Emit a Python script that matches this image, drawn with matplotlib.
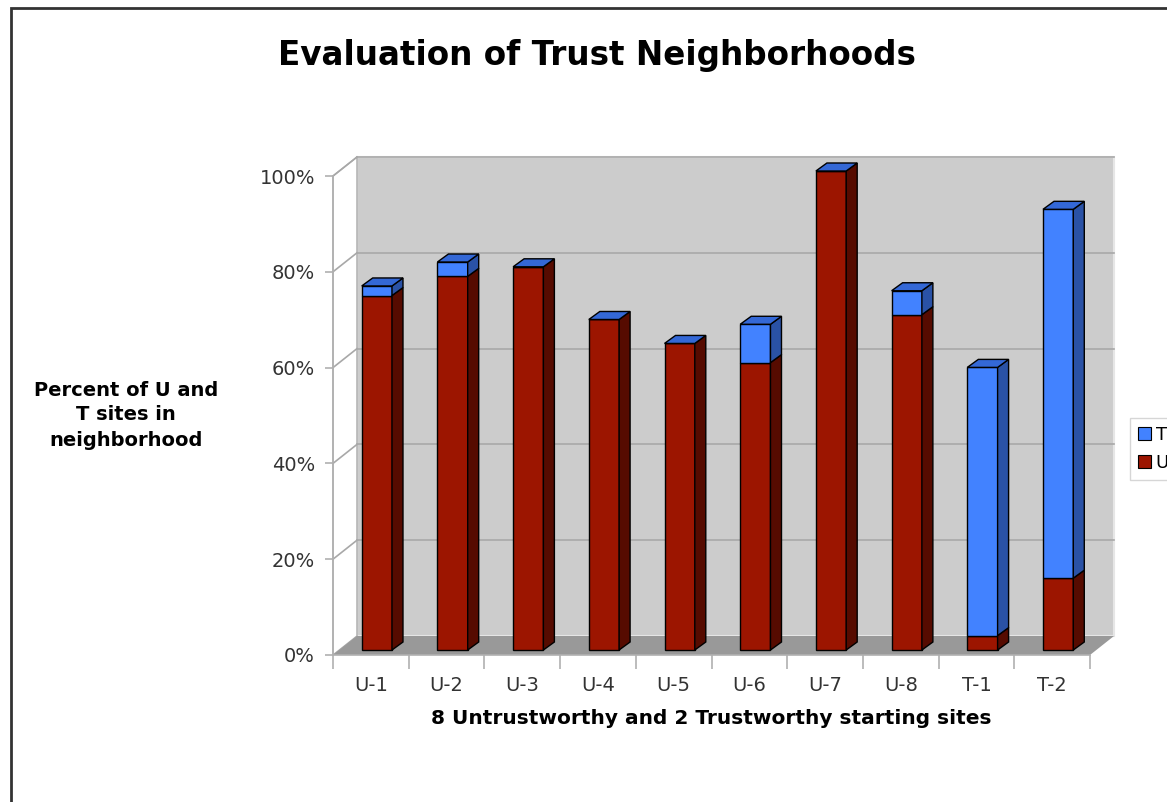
import numpy as np
import matplotlib.pyplot as plt
from matplotlib.patches import Polygon, Rectangle, Patch

# data (percent of sites in neighborhood)
sites = ['U-1', 'U-2', 'U-3', 'U-4', 'U-5', 'U-6', 'U-7', 'U-8', 'T-1', 'T-2']
u_pct = [74, 78, 80, 69, 64, 60, 100, 70, 3, 15]
t_pct = [2, 3, 0, 0, 0, 8, 0, 5, 56, 77]
y_ticks = [0, 20, 40, 60, 80, 100]

# colours
red_front, red_side = '#9c1500', '#560b00'
blue_front, blue_side, blue_top = '#4282ff', '#2a52a6', '#3468d6'
wall_col, floor_col, grid_col = '#cccccc', '#999999', '#a8a8a8'

W, H = 1167, 802
fig = plt.figure(figsize=(W / 100, H / 100), dpi=100)

# front plane of the 3d box: x 333..1090 px, y 655..176 px
ax = fig.add_axes([333 / W, 1 - 655 / H, (1090 - 333) / W, (655 - 176) / H])
n = len(sites)
ax.set_xlim(-0.5, n - 0.5)
ax.set_ylim(0, 100)
sx = n / (1090 - 333)      # data units per pixel, x
sy = 100 / (655 - 176)     # data units per pixel, y

# depth offsets in pixels
wall_dx, wall_dy = 24 * sx, 19 * sy
bar_ox, bar_oy = 6 * sx, 5 * sy
bar_dx, bar_dy = 11 * sx, 8 * sy

# back wall, floor and side wall
x0, x1 = -0.5, n - 0.5
ax.add_patch(Polygon([(x0 + wall_dx, wall_dy), (x1 + wall_dx, wall_dy),
                      (x1 + wall_dx, 100 + wall_dy), (x0 + wall_dx, 100 + wall_dy)],
                     closed=True, fc=wall_col, ec='#e6e6e6', lw=1.5, clip_on=False, zorder=1))
ax.add_patch(Polygon([(x0, 0), (x1, 0), (x1 + wall_dx, wall_dy), (x0 + wall_dx, wall_dy)],
                     closed=True, fc=floor_col, ec='none', clip_on=False, zorder=1.5))
ax.add_patch(Polygon([(x0, 0), (x0 + wall_dx, wall_dy), (x0 + wall_dx, 100 + wall_dy), (x0, 100)],
                     closed=True, fc='white', ec=grid_col, lw=1, clip_on=False, zorder=1))

# gridlines on back wall and side wall
for yv in y_ticks[1:]:
    ax.plot([x0 + wall_dx, x1 + wall_dx], [yv + wall_dy, yv + wall_dy],
            color=grid_col, lw=1.2, clip_on=False, zorder=1.2)
    ax.plot([x0, x0 + wall_dx], [yv, yv + wall_dy], color=grid_col, lw=1.2,
            clip_on=False, zorder=1.2)

# bars
x = np.arange(n)
u = np.array(u_pct, dtype=float)
t = np.array(t_pct, dtype=float)
ax.bar(x + bar_ox, u, width=0.4, bottom=bar_oy, color=red_front,
       edgecolor='black', lw=1, zorder=3, clip_on=False)
ax.bar(x + bar_ox, t, width=0.4, bottom=bar_oy + u, color=blue_front,
       edgecolor='black', lw=1, zorder=3, clip_on=False)

for i in range(n):
    xr = x[i] + bar_ox + 0.2
    xl = x[i] + bar_ox - 0.2
    yb = bar_oy
    ym = bar_oy + u[i]
    yt = ym + t[i]
    ax.add_patch(Polygon([(xr, yb), (xr + bar_dx, yb + bar_dy), (xr + bar_dx, ym + bar_dy), (xr, ym)],
                         closed=True, fc=red_side, ec='black', lw=1, clip_on=False, zorder=3))
    if t[i] > 0:
        ax.add_patch(Polygon([(xr, ym), (xr + bar_dx, ym + bar_dy), (xr + bar_dx, yt + bar_dy), (xr, yt)],
                             closed=True, fc=blue_side, ec='black', lw=1, clip_on=False, zorder=3))
    ax.add_patch(Polygon([(xl, yt), (xr, yt), (xr + bar_dx, yt + bar_dy), (xl + bar_dx, yt + bar_dy)],
                         closed=True, fc=blue_top, ec='black', lw=1, clip_on=False, zorder=3))

# axes lines and ticks
for side in ['top', 'right']:
    ax.spines[side].set_visible(False)
for side in ['left', 'bottom']:
    ax.spines[side].set_color('#b0b0b0')
    ax.spines[side].set_linewidth(1.2)
    ax.spines[side].set_zorder(2)
ax.set_facecolor('none')
ax.set_yticks(y_ticks)
ax.set_yticklabels(['{}%'.format(v) for v in y_ticks], fontsize=14, color='#333333')
ax.set_xticks(x)
ax.set_xticklabels(sites, fontsize=14, color='#333333')
ax.set_xticks(np.arange(-0.5, n), minor=True)
ax.tick_params(axis='x', which='major', length=0, pad=15)
ax.tick_params(axis='x', which='minor', length=10, color='#b0b0b0', width=1.2)
ax.tick_params(axis='y', length=6, color='#b0b0b0', width=1.2, pad=7)

# text
fig.text(597 / W, 1 - 55 / H, 'Evaluation of Trust Neighborhoods', ha='center', va='center',
         fontsize=23.5, fontweight='bold')
fig.text(126 / W, 1 - 415 / H, 'Percent of U and\nT sites in\nneighborhood', ha='center',
         va='center', fontsize=14, fontweight='bold', linespacing=1.4)
fig.text(711 / W, 1 - 718 / H, '8 Untrustworthy and 2 Trustworthy starting sites', ha='center',
         va='center', fontsize=14.5, fontweight='bold')

# legend (runs off the right edge like the original)
handles = [Patch(fc=blue_front, ec='black', lw=0.8), Patch(fc=red_front, ec='black', lw=0.8)]
fig.legend(handles, ['T sites', 'U sites'], loc='upper left',
           bbox_to_anchor=(1130 / W, 1 - 418 / H), fontsize=13, frameon=True,
           fancybox=False, edgecolor='#cccccc', handlelength=0.7, handleheight=0.7,
           handletextpad=0.3, borderpad=0.45, labelspacing=0.55, borderaxespad=0)

# page border
fig.add_artist(Rectangle((11 / W, -0.1), 1.2, 1.1 - 8 / H, transform=fig.transFigure,
                         fill=False, ec='#333333', lw=2))

fig.savefig('out.png', dpi=100)
